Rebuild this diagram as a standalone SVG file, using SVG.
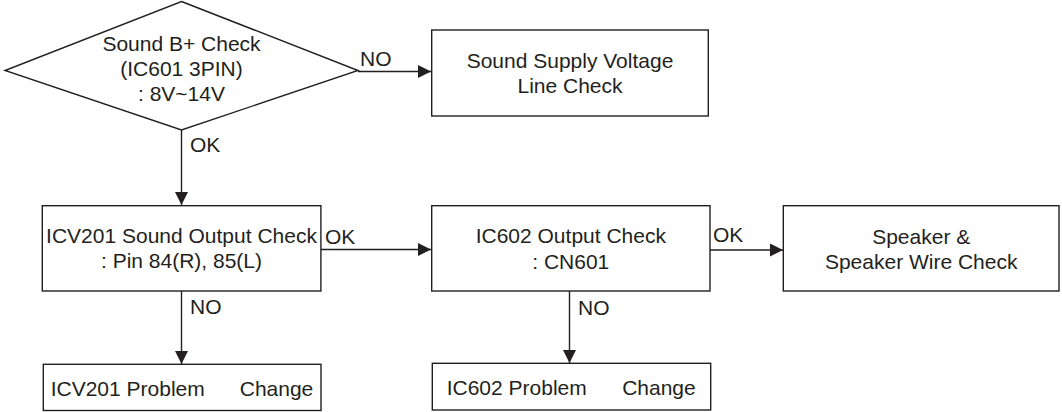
<svg xmlns="http://www.w3.org/2000/svg" width="1062" height="412" viewBox="0 0 1062 412">
<style>
.n{fill:#fff;stroke:#231f20;stroke-width:1.4}
.t{font-family:"Liberation Sans",Arial,sans-serif;font-size:21px;fill:#231f20;text-anchor:middle}
.l{font-family:"Liberation Sans",Arial,sans-serif;font-size:21px;fill:#231f20}
.c{fill:none;stroke:#231f20;stroke-width:1.4}
</style>
<defs>
<marker id="a" markerUnits="userSpaceOnUse" markerWidth="14" markerHeight="14" refX="13" refY="7" orient="auto" viewBox="0 0 14 14">
<path d="M0,0.5 L13,7 L0,13.5 Z" fill="#231f20"/>
</marker>
</defs>
<rect width="1062" height="412" fill="#fff"/>
<g id="connectors">
<line class="c" x1="358" y1="71.5" x2="431" y2="71.5" marker-end="url(#a)"/>
<line class="c" x1="181.5" y1="130" x2="181.5" y2="205" marker-end="url(#a)"/>
<line class="c" x1="321" y1="249.5" x2="431" y2="249.5" marker-end="url(#a)"/>
<line class="c" x1="710" y1="250" x2="783" y2="250" marker-end="url(#a)"/>
<line class="c" x1="181.5" y1="291" x2="181.5" y2="364" marker-end="url(#a)"/>
<line class="c" x1="569.5" y1="291" x2="569.5" y2="363" marker-end="url(#a)"/>
<text class="l" x="360" y="66">NO</text>
<text class="l" x="190" y="152">OK</text>
<text class="l" x="325" y="244">OK</text>
<text class="l" x="713" y="242">OK</text>
<text class="l" x="190" y="314">NO</text>
<text class="l" x="578" y="315">NO</text>
</g>
<g id="check_b">
<polygon class="n" points="181.5,1.5 358,70.5 181.5,130 5,70.5"/>
<text class="t" x="181.5" y="50.5">Sound B+ Check</text>
<text class="t" x="181.5" y="75.5">(IC601 3PIN)</text>
<text class="t" x="181.5" y="100.5">: 8V~14V</text>
</g>
<g id="supply">
<rect class="n" x="431.7" y="30" width="276.6" height="86"/>
<text class="t" x="570" y="67.5">Sound Supply Voltage</text>
<text class="t" x="570" y="93">Line Check</text>
</g>
<g id="icv201">
<rect class="n" x="42.3" y="205.7" width="278.6" height="85.3"/>
<text class="t" x="181.5" y="243.3">ICV201 Sound Output Check</text>
<text class="t" x="181.5" y="268.3">: Pin 84(R), 85(L)</text>
</g>
<g id="ic602">
<rect class="n" x="431.7" y="205.7" width="278.3" height="85.3"/>
<text class="t" x="570.8" y="243.3">IC602 Output Check</text>
<text class="t" x="570.8" y="269">: CN601</text>
</g>
<g id="speaker">
<rect class="n" x="783.3" y="205.7" width="275.7" height="85.3"/>
<text class="t" x="921.2" y="244">Speaker &amp;</text>
<text class="t" x="921.2" y="269">Speaker Wire Check</text>
</g>
<g id="icv201_problem">
<rect class="n" x="43.3" y="364.3" width="277.7" height="46.2"/>
<text class="l" y="396"><tspan x="50.7">ICV201 Problem</tspan><tspan x="313.3" text-anchor="end">Change</tspan></text>
</g>
<g id="ic602_problem">
<rect class="n" x="432.3" y="363.3" width="278.4" height="46.7"/>
<text class="l" y="395"><tspan x="446.7">IC602 Problem</tspan><tspan x="695.7" text-anchor="end">Change</tspan></text>
</g>
</svg>
